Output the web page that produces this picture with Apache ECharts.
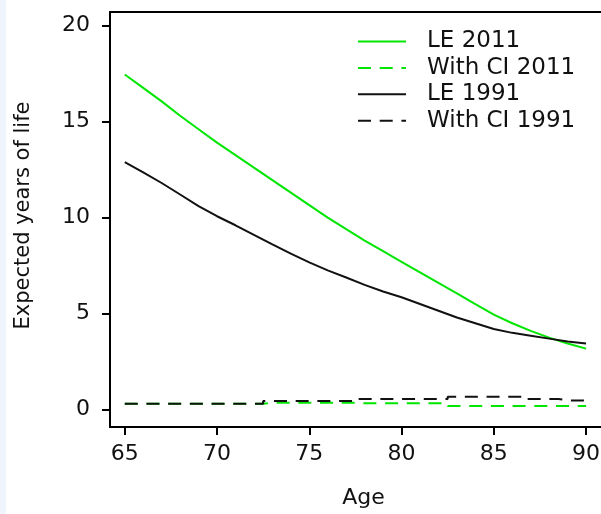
<!DOCTYPE html>
<html>
<head>
<meta charset="utf-8">
<script src="https://cdn.jsdelivr.net/npm/echarts@6/dist/echarts.min.js"></script>
<style>
  html, body { margin: 0; padding: 0; background: #ffffff; overflow: hidden; }
  #chart { width: 601px; height: 514px; }
</style>
</head>
<body>
<div id="chart"></div>
<script>
// Remaining life expectancy by age, 1991 vs 2011
const ages = [65, 66, 67, 68, 69, 70, 71, 72, 73, 74, 75, 76, 77, 78, 79, 80, 81, 82, 83, 84, 85, 86, 87, 88, 89, 90];

const le2011 = [17.45, 16.75, 16.05, 15.3, 14.6, 13.9, 13.25, 12.6, 11.95, 11.3, 10.65, 10.0, 9.4, 8.8, 8.25, 7.7, 7.15, 6.6, 6.05, 5.5, 4.95, 4.5, 4.1, 3.75, 3.45, 3.18];
const ci2011 = [0.31, 0.31, 0.31, 0.31, 0.31, 0.31, 0.31, 0.31, 0.36, 0.36, 0.36, 0.36, 0.36, 0.33, 0.33, 0.33, 0.33, 0.33, 0.19, 0.19, 0.19, 0.19, 0.19, 0.19, 0.19, 0.19];
const le1991 = [12.88, 12.35, 11.8, 11.2, 10.6, 10.07, 9.6, 9.1, 8.6, 8.12, 7.67, 7.25, 6.88, 6.5, 6.15, 5.85, 5.5, 5.15, 4.8, 4.5, 4.2, 4.0, 3.85, 3.7, 3.55, 3.44];
const ci1991 = [0.31, 0.31, 0.31, 0.31, 0.31, 0.31, 0.31, 0.31, 0.45, 0.45, 0.45, 0.45, 0.45, 0.56, 0.56, 0.56, 0.56, 0.56, 0.68, 0.68, 0.68, 0.68, 0.56, 0.56, 0.48, 0.48];

const seriesNames = ['LE 2011', 'With CI 2011', 'LE 1991', 'With CI 1991'];
const xTicks = [65, 70, 75, 80, 85, 90];
const yTicks = [0, 5, 10, 15, 20];

const GREEN = '#00e600';
const BLACK = '#111111';
const FONT = 'DejaVu Sans';
// the plot box is cut by the right edge of the canvas
const X_MIN = 64.2, X_MAX = 90.81;

const pairs = vals => ages.map((a, i) => [a, vals[i]]);

function lineSeries(name, vals, color, dashed) {
  return {
    name: name,
    type: 'line',
    xAxisIndex: 0,
    data: pairs(vals),
    symbol: 'none',
    step: dashed ? 'middle' : false,
    smooth: false,
    silent: true,
    clip: false,
    lineStyle: {
      color: color,
      width: 2,
      type: dashed ? [13, 8.7] : 'solid'
    },
    itemStyle: { color: color }
  };
}

const chart = echarts.init(document.getElementById('chart'), null, { renderer: 'canvas' });

chart.setOption({
  animation: false,
  backgroundColor: '#ffffff',
  graphic: [{
    type: 'rect',
    shape: { x: 0, y: 0, width: 6, height: 514 },
    style: { fill: '#eef5fc' },
    silent: true
  }],
  grid: {
    left: 110,
    top: 12,
    width: 491,
    height: 415,
    outerBoundsMode: 'none',
    containLabel: false,
    show: false
  },
  legend: {
    orient: 'vertical',
    left: 357,
    top: 30,
    padding: 0,
    itemWidth: 48,
    itemHeight: 14,
    itemGap: 3.4,
    selectedMode: false,
    data: seriesNames,
    itemStyle: { opacity: 0 },
    textStyle: {
      fontFamily: FONT,
      fontSize: 23,
      lineHeight: 22,
      color: BLACK,
      padding: [0, 0, 0, 16]
    }
  },
  xAxis: [{
    type: 'value',
    min: X_MIN,
    max: X_MAX,
    name: 'Age',
    nameLocation: 'middle',
    nameGap: 60,
    nameTextStyle: { fontFamily: FONT, fontSize: 22, color: BLACK, padding: [0, 0, 0, 16] },
    axisLine: { show: true, onZero: false, lineStyle: { color: '#000', width: 2 } },
    axisTick: { show: true, length: 8, customValues: xTicks, lineStyle: { color: '#000', width: 2 } },
    axisLabel: { customValues: xTicks, margin: 16, fontFamily: FONT, fontSize: 22, color: BLACK },
    splitLine: { show: false }
  }, {
    // top edge of the plot box
    type: 'value',
    position: 'top',
    min: X_MIN,
    max: X_MAX,
    axisLine: { show: true, onZero: false, lineStyle: { color: '#000', width: 2 } },
    axisTick: { show: false },
    axisLabel: { show: false },
    splitLine: { show: false }
  }],
  yAxis: {
    type: 'value',
    min: -0.9,
    max: 20.7,
    name: 'Expected years of life',
    nameLocation: 'middle',
    nameGap: 76,
    nameTextStyle: { fontFamily: FONT, fontSize: 21, color: BLACK, padding: [0, 0, 0, 8] },
    axisLine: { show: true, onZero: false, lineStyle: { color: '#000', width: 2 } },
    axisTick: { show: true, length: 8, customValues: yTicks, lineStyle: { color: '#000', width: 2 } },
    axisLabel: { customValues: yTicks, margin: 20, fontFamily: FONT, fontSize: 22, color: BLACK },
    splitLine: { show: false }
  },
  series: [
    lineSeries(seriesNames[0], le2011, GREEN, false),
    lineSeries(seriesNames[1], ci2011, GREEN, true),
    lineSeries(seriesNames[2], le1991, BLACK, false),
    lineSeries(seriesNames[3], ci1991, BLACK, true)
  ]
});
</script>
</body>
</html>
